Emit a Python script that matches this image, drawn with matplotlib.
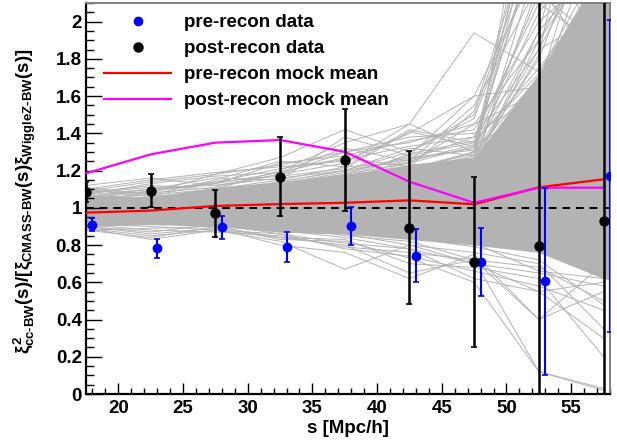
import numpy as np
import matplotlib.pyplot as plt
from matplotlib.lines import Line2D
from matplotlib.ticker import MultipleLocator, FuncFormatter

plt.rcParams['font.family'] = ['Liberation Sans', 'DejaVu Sans']
plt.rcParams['font.weight'] = 'bold'
plt.rcParams['mathtext.fontset'] = 'custom'
plt.rcParams['mathtext.rm'] = 'Liberation Sans:bold'
plt.rcParams['mathtext.bf'] = 'Liberation Sans:bold'
plt.rcParams['mathtext.it'] = 'Liberation Sans:bold'

## bin centres
s_post = [17.5, 22.5, 27.5, 32.5, 37.5, 42.5, 47.5, 52.5, 57.5]
s_pre = [18, 23, 28, 33, 38, 43, 48, 53, 58]
s_band = [17.5, 22.5, 27.5, 32.5, 37.5, 42.5, 47.5, 52.5, 57.5, 62.5]

## data points
pre_val = [0.908, 0.782, 0.895, 0.791, 0.902, 0.743, 0.711, 0.605, 1.171]
pre_err = [0.035, 0.050, 0.060, 0.080, 0.103, 0.142, 0.182, 0.503, 0.837]
post_val = [1.085, 1.092, 0.970, 1.167, 1.257, 0.893, 0.707, 0.797, 0.929]
post_err = [0.055, 0.087, 0.128, 0.213, 0.275, 0.410, 0.457, 1.500, 1.500]

## mock means
pre_mock_mean = [0.974, 0.985, 1.010, 1.020, 1.027, 1.040, 1.019, 1.110, 1.153]
post_mock_mean = [1.185, 1.287, 1.350, 1.364, 1.301, 1.140, 1.027, 1.108, 1.108]

## dense core of the individual mocks
mock_lo = [0.90, 0.91, 0.90, 0.87, 0.86, 0.83, 0.80, 0.76, 0.62, 0.55]
mock_hi = [1.07, 1.06, 1.11, 1.14, 1.18, 1.23, 1.27, 1.72, 2.30, 2.60]

## individual mocks outside the core
mock_curves = [
    [1.12, 1.16, 1.12, 1.18, 1.30, 1.35, 1.45, 1.90, 2.40],
    [1.10, 1.15, 1.19, 1.22, 1.25, 1.40, 1.60, 2.30, 2.60],
    [1.09, 1.08, 1.18, 1.27, 1.42, 1.30, 1.50, 2.50, 1.90],
    [1.08, 1.12, 1.10, 1.20, 1.35, 1.45, 1.94, 1.73, 2.20],
    [1.11, 1.07, 1.15, 1.25, 1.22, 1.42, 1.35, 2.70, 1.80],
    [1.06, 1.10, 1.16, 1.15, 1.38, 1.28, 1.60, 1.65, 2.80],
    [1.05, 1.09, 1.13, 1.24, 1.28, 1.36, 1.42, 2.00, 2.30],
    [1.07, 1.13, 1.17, 1.19, 1.32, 1.25, 1.55, 2.20, 1.70],
    [1.10, 1.06, 1.14, 1.21, 1.26, 1.33, 1.38, 1.85, 2.50],
    [1.04, 1.08, 1.11, 1.18, 1.24, 1.45, 1.30, 1.70, 2.00],
    [1.08, 1.11, 1.12, 1.16, 1.20, 1.30, 1.48, 2.40, 1.95],
    [1.09, 1.14, 1.18, 1.23, 1.30, 1.38, 1.40, 1.60, 2.60],
    [1.03, 1.05, 1.08, 1.12, 1.18, 1.28, 1.35, 1.75, 2.20],
    [1.02, 1.04, 1.07, 1.14, 1.20, 1.32, 1.28, 1.85, 2.05],
    [1.05, 1.07, 1.10, 1.15, 1.22, 1.24, 1.45, 1.62, 2.15],
    [0.95, 0.96, 1.00, 1.05, 1.12, 1.20, 1.30, 1.95, 2.35],
    [1.00, 1.02, 1.05, 1.10, 1.15, 1.26, 1.38, 2.10, 1.85],
    [1.06, 1.09, 1.14, 1.17, 1.21, 1.41, 1.33, 1.55, 1.92],
    [1.07, 1.10, 1.13, 1.19, 1.27, 1.22, 1.52, 2.60, 1.75],
    [1.00, 1.01, 1.03, 1.08, 1.10, 1.18, 1.25, 2.20, 3.00],
    [0.98, 1.02, 1.06, 1.10, 1.16, 1.21, 1.30, 2.90, 2.10],
    [1.01, 0.99, 1.04, 1.06, 1.14, 1.19, 1.22, 1.95, 3.20],
    [0.97, 1.00, 1.05, 1.09, 1.13, 1.25, 1.34, 2.45, 1.95],
    [1.02, 1.03, 1.06, 1.11, 1.17, 1.22, 1.27, 1.80, 2.70],
    [0.99, 1.01, 1.02, 1.07, 1.11, 1.16, 1.24, 3.10, 2.25],
    [1.03, 1.04, 1.09, 1.13, 1.19, 1.27, 1.31, 2.05, 2.45],
    [0.96, 0.98, 1.01, 1.04, 1.09, 1.15, 1.21, 2.35, 2.90],
    [1.00, 1.03, 1.07, 1.12, 1.16, 1.29, 1.36, 1.72, 2.35],
    [1.01, 1.02, 1.04, 1.08, 1.13, 1.20, 1.28, 2.65, 2.05],
    [0.98, 0.99, 1.03, 1.06, 1.12, 1.17, 1.23, 1.90, 2.55],
    [1.02, 1.05, 1.08, 1.13, 1.18, 1.24, 1.33, 2.15, 1.88],
    [0.99, 1.00, 1.06, 1.10, 1.15, 1.23, 1.26, 1.68, 2.15],
    [1.00, 1.02, 1.05, 1.09, 1.14, 1.21, 1.29, 2.75, 2.40],
    [0.97, 1.01, 1.03, 1.07, 1.12, 1.19, 1.25, 1.82, 3.40],
    [1.03, 1.06, 1.09, 1.14, 1.20, 1.26, 1.32, 2.50, 2.20],
    [0.89, 0.83, 0.88, 0.82, 0.67, 0.80, 0.70, 0.55, 0.60],
    [0.90, 0.86, 0.89, 0.80, 0.76, 0.62, 0.75, 0.40, 0.70],
    [0.88, 0.84, 0.90, 0.83, 0.82, 0.73, 0.60, 0.12, 0.03],
    [0.91, 0.88, 0.87, 0.85, 0.79, 0.76, 0.72, 0.12, 0.02],
    [0.89, 0.85, 0.88, 0.84, 0.80, 0.65, 0.72, 0.40, 0.55],
    [0.90, 0.87, 0.91, 0.86, 0.81, 0.78, 0.62, 0.55, 0.30],
    [0.88, 0.89, 0.90, 0.84, 0.83, 0.70, 0.68, 0.62, 0.20],
    [0.91, 0.90, 0.88, 0.86, 0.78, 0.74, 0.66, 0.58, 0.45],
    [0.93, 0.92, 0.95, 0.90, 0.85, 0.82, 0.72, 0.68, 0.50],
    [0.92, 0.93, 0.94, 0.88, 0.84, 0.78, 0.70, 0.65, 0.58],
    [0.94, 0.91, 0.92, 0.87, 0.86, 0.80, 0.76, 0.70, 0.35],
    [0.95, 0.94, 0.93, 0.91, 0.88, 0.84, 0.79, 0.72, 0.48],
    [0.94, 0.95, 0.96, 0.92, 0.87, 0.85, 0.81, 0.66, 0.62],
]

gray = '#b3b3b3'

fig = plt.figure(figsize=(6.17, 4.4), dpi=100)
ax = fig.add_axes([86/617, 1-394/440, 524/617, 391/440])

ax.fill_between(s_band, mock_lo, mock_hi, color=gray, lw=0, zorder=1)
for c in mock_curves:
    ax.plot(s_post, c, color=gray, lw=0.7, zorder=1)

ax.axhline(1.0, color='black', ls=(0, (4, 3)), lw=1.4, zorder=2)

ax.plot(s_post, pre_mock_mean, color='#ff0000', lw=1.6, zorder=3)
ax.plot(s_post, post_mock_mean, color='#ff00ff', lw=1.6, zorder=3)

ax.errorbar(s_pre, pre_val, yerr=pre_err, fmt='o', color='#0000ff', ms=6, lw=1.5,
            capsize=2, capthick=1.2, zorder=4)
ax.errorbar(s_post, post_val, yerr=post_err, fmt='o', color='black', ms=6.5, lw=1.8,
            capsize=2, capthick=1.2, zorder=5)

ax.set_xlim(17.5, 58)
ax.set_ylim(0, 2.1)

ax.xaxis.set_major_locator(MultipleLocator(5))
ax.xaxis.set_minor_locator(MultipleLocator(1))
ax.yaxis.set_major_locator(MultipleLocator(0.2))
ax.yaxis.set_minor_locator(MultipleLocator(0.05))
ax.yaxis.set_major_formatter(FuncFormatter(lambda v, p: '%g' % round(v, 2)))
ax.tick_params(axis='both', which='both', direction='in', labelsize=13.5, width=1)
ax.tick_params(axis='x', which='major', length=8, pad=4)
ax.tick_params(axis='x', which='minor', length=4)
ax.tick_params(axis='y', which='major', length=11.5, pad=3)
ax.tick_params(axis='y', which='minor', length=6)
for lab in ax.get_xticklabels() + ax.get_yticklabels():
    lab.set_fontweight('bold')

for side in ['left', 'bottom']:
    ax.spines[side].set_color('black')
    ax.spines[side].set_linewidth(1.6)
for side in ['top', 'right']:
    ax.spines[side].set_color('#808080')
    ax.spines[side].set_linewidth(1.4)

handles = [
    Line2D([], [], ls='none', marker='o', color='#0000ff', ms=6),
    Line2D([], [], ls='none', marker='o', color='black', ms=6.5),
    Line2D([], [], color='#ff0000', lw=1.6),
    Line2D([], [], color='#ff00ff', lw=1.6),
]
labels = ['pre-recon data', 'post-recon data', 'pre-recon mock mean', 'post-recon mock mean']
ax.legend(handles, labels, loc='upper left', bbox_to_anchor=(0.035, 0.972),
          frameon=False, handlelength=3.55, handletextpad=0.7, labelspacing=0.48,
          borderpad=0, borderaxespad=0, prop={'weight': 'bold', 'size': 13.5})

fig.text(348/617, 1-428/440, 's [Mpc/h]', ha='center', va='center',
         fontsize=13.5, fontweight='bold')
fig.text(25/617, 1-201/440,
         r'$\xi^{2}_{\text{cc-BW}}\text{(s)/[}\xi_{\text{CMASS-BW}}\text{(s)}\xi_{\text{WiggleZ-BW}}\text{(s)]}$',
         rotation=90, ha='center', va='center', fontsize=13.5)

fig.savefig('out.png', dpi=100)
